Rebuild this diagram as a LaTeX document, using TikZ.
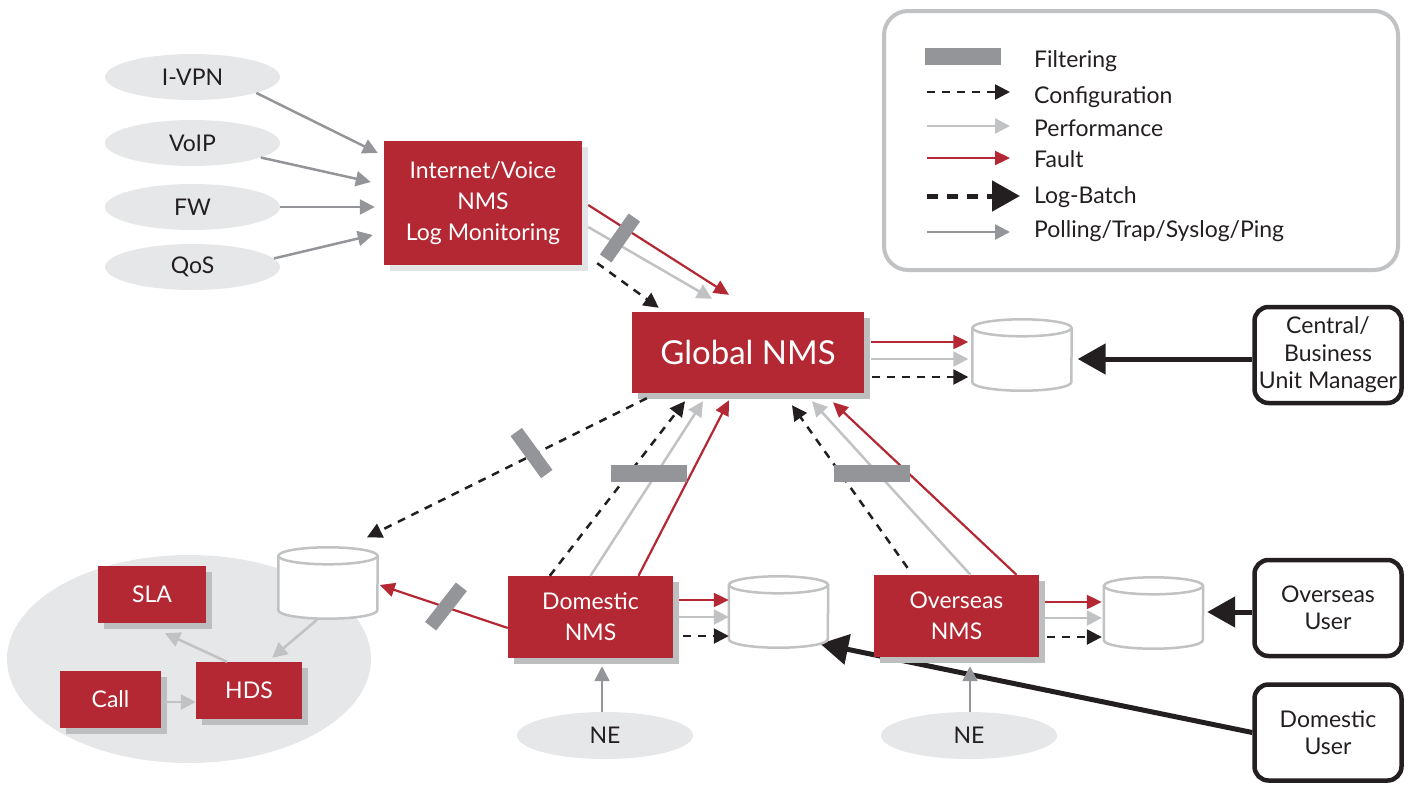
\documentclass[tikz,border=0pt]{standalone}
\usepackage{fontspec}
\setmainfont{Lato}
\usetikzlibrary{arrows.meta,calc,shapes.geometric,backgrounds}
\definecolor{nmsRed}{RGB}{179,40,50}
\definecolor{shade}{RGB}{188,190,192}
\definecolor{paleShade}{RGB}{226,227,229}
\definecolor{cloud}{RGB}{230,231,232}
\definecolor{perfGray}{RGB}{192,194,196}
\definecolor{pollGray}{RGB}{147,149,152}
\definecolor{inkBlack}{RGB}{35,31,32}
\newcommand{\labelfont}{\fontsize{23}{31}\selectfont}
\newcommand{\userfont}{\fontsize{23}{27.5}\selectfont}
\newcommand{\bigfont}{\fontsize{33}{40}\selectfont}
\tikzset{
  nms/.style={rectangle, fill=nmsRed, text=white, align=center, inner sep=0pt,
              font=\labelfont,
              preaction={fill=#1, transform canvas={xshift=6pt,yshift=-6pt}}},
  nms/.default=shade,
  elem/.style={ellipse, fill=cloud, inner sep=0pt, minimum width=175pt,
               minimum height=46pt, font=\labelfont, text=inkBlack},
  user/.style={rectangle, rounded corners=14pt, draw=inkBlack, line width=4.5pt,
               fill=white, align=center, minimum width=147pt, minimum height=96pt,
               font=\userfont, text=inkBlack, inner sep=0pt},
  store/.style={rectangle, inner sep=0pt, minimum width=99pt, minimum height=71pt},
  filt/.style={rectangle, fill=pollGray, inner sep=0pt, minimum width=50pt,
               minimum height=14pt},
  cfg/.style={draw=inkBlack, line width=2.5pt, dash pattern=on 8pt off 7pt,
              -{Triangle[length=15pt,width=15pt]}},
  perf/.style={draw=perfGray, line width=2.5pt, -{Triangle[length=15pt,width=15pt]}},
  fault/.style={draw=nmsRed, line width=2.2pt, -{Triangle[length=15pt,width=14pt]}},
  poll/.style={draw=pollGray, line width=2.5pt, -{Triangle[length=15pt,width=15pt]}},
  batch/.style={draw=inkBlack, line width=5pt, dash pattern=on 11pt off 9pt,
                -{Triangle[length=28pt,width=30pt]}},
  feed/.style={draw=inkBlack, line width=5pt, -{Triangle[length=28pt,width=30pt]}},
  canline/.style={draw=perfGray, line width=2.5pt, fill=white},
  keytext/.style={anchor=base west, inner sep=0pt, font=\labelfont, text=inkBlack},
}
% database drum drawn over a store node
\newcommand{\drum}[1]{%
  \draw[canline] ($(#1.north west)+(0,8.5)$) -- ($(#1.south west)+(0,-8.5)$)
    arc[start angle=180, end angle=360, x radius=49.5pt, y radius=8.5pt]
    -- ($(#1.north east)+(0,8.5)$);
  \draw[canline] ($(#1.north)+(0,8.5)$) ellipse[x radius=49.5pt, y radius=8.5pt];}

\begin{document}
\begin{tikzpicture}[x=1pt, y=-1pt]
  \useasboundingbox (0,0) rectangle (1415,785);

  % --- legend ---
  \node[rectangle, rounded corners=24pt, draw=perfGray, line width=4pt,
        minimum width=514pt, minimum height=259pt] (legend) at (1141,140.5) {};
  \node[filt, minimum width=76pt, minimum height=17pt] (keyFilt) at (963,56.5) {};
  \node[keytext] (keyFiltTxt) at (1034,67) {Filtering};
  \coordinate (cfgA) at (927,92);   \coordinate (cfgB) at (1010,92);
  \coordinate (perfA) at (927,126); \coordinate (perfB) at (1010,126);
  \coordinate (faultA) at (927,158); \coordinate (faultB) at (1010,158);
  \coordinate (batchA) at (927,196); \coordinate (batchB) at (1020,196);
  \coordinate (pollA) at (927,232); \coordinate (pollB) at (1010,232);
  \draw[cfg]   (cfgA) -- (cfgB);
  \draw[perf]  (perfA) -- (perfB);
  \draw[fault] (faultA) -- (faultB);
  \draw[batch] (batchA) -- (batchB);
  \draw[poll]  (pollA) -- (pollB);
  \node[keytext] (keyCfg)   at (1034,103) {Configuration};
  \node[keytext] (keyPerf)  at (1034,136) {Performance};
  \node[keytext] (keyFault) at (1034,167) {Fault};
  \node[keytext] (keyBatch) at (1034,203) {Log-Batch};
  \node[keytext] (keyPoll)  at (1034,237) {Polling/Trap/Syslog/Ping};

  % --- HDS domain ---
  \node[ellipse, fill=cloud, minimum width=364pt, minimum height=208pt] (hdsZone) at (189,659) {};

  % --- network elements ---
  \node[elem] (ivpn)  at (192.5,77)  {I-VPN};
  \node[elem] (voip)  at (192.5,143) {VoIP};
  \node[elem] (fw)    at (192.5,207) {FW};
  \node[elem] (qos)   at (192.5,267) {QoS};
  \node[elem, minimum width=176pt, minimum height=47pt] (nedom) at (605,735.5) {NE};
  \node[elem, minimum width=176pt, minimum height=47pt] (neovs) at (969,735.5) {NE};

  % --- management systems ---
  \node[nms=paleShade, minimum width=198pt, minimum height=124pt] (inet) at (483,203)
    {Internet/Voice\\NMS\\Log Monitoring};
  \node[nms, font=\bigfont, minimum width=232pt, minimum height=81pt] (gnms) at (748,352.5) {Global NMS};
  \node[nms, minimum width=165pt, minimum height=82pt] (dnms) at (590.5,617) {Domestic\\NMS};
  \node[nms, minimum width=165pt, minimum height=82pt] (onms) at (956.5,616) {Overseas\\NMS};
  \node[nms, minimum width=108pt, minimum height=57pt] (sla)  at (152,594.5) {SLA};
  \node[nms, minimum width=101pt, minimum height=57pt] (call) at (110.5,699.5) {Call};
  \node[nms, minimum width=106pt, minimum height=57pt] (hds)  at (249,690.5) {HDS};

  % --- log stores ---
  \node[store] (gcan) at (1022,355) {};
  \node[store] (lcan) at (328,583) {};
  \node[store] (dcan) at (778.5,612) {};
  \node[store] (ocan) at (1153.5,613) {};
  \drum{gcan} \drum{lcan} \drum{dcan} \drum{ocan}

  % --- users ---
  \node[user] (cbum)  at (1328,355)   {Central/\\Business\\Unit Manager};
  \node[user] (ouser) at (1328,608)   {Overseas\\User};
  \node[user] (duser) at (1328,732.5) {Domestic\\User};

  % --- collection into the Internet/Voice NMS ---
  \draw[poll] (ivpn.-14) -- ($(inet.west)+(-6,-50)$);
  \draw[poll] (voip.-12) -- ($(inet.west)+(-13,-21)$);
  \draw[poll] (fw.east)  -- ($(inet.west)+(-9,4)$);
  \draw[poll] (qos.6)    -- ($(inet.west)+(-11,32)$);

  % --- Internet/Voice NMS -> Global NMS ---
  \draw[fault] ($(inet.east)+(6,2)$)  -- ($(gnms.north)+(-19,-17)$);
  \draw[perf]  ($(inet.east)+(6,24)$) -- ($(gnms.north)+(-36,-13)$);
  \draw[cfg]   ($(inet.south east)+(15,-2)$) -- ($(gnms.north west)+(27,-4)$);

  % --- Global NMS -> its store ---
  \draw[fault] ($(gnms.east)+(7,-10.5)$) -- ($(gcan.west)+(-4,-13)$);
  \draw[perf]  ($(gnms.east)+(7,6.5)$)   -- ($(gcan.west)+(-4,4)$);
  \draw[cfg]   ($(gnms.east)+(8,24.5)$)  -- ($(gcan.west)+(-4,22)$);

  % --- Domestic NMS <-> Global NMS ---
  \draw[cfg]   ($(dnms.north west)+(42,0)$) -- ($(gnms.south)+(-63,8)$);
  \draw[perf]  (dnms.north)                 -- ($(gnms.south)+(-45,8)$);
  \draw[fault] ($(dnms.north)+(48,0)$)      -- ($(gnms.south)+(-19,7)$);

  % --- Overseas NMS <-> Global NMS ---
  \draw[cfg]   ($(onms.north)+(-49,-7)$) -- ($(gnms.south)+(44,12)$);
  \draw[perf]  ($(onms.north)+(14,0)$)   -- ($(gnms.south)+(64,8)$);
  \draw[fault] ($(onms.north)+(60,0)$)   -- ($(gnms.south)+(85,9)$);

  % --- regional NMS -> stores ---
  \draw[fault] ($(dnms.east)+(6,-17)$) -- ($(dcan.west)+(0,-12)$);
  \draw[perf]  ($(dnms.east)+(6,0)$)   -- ($(dcan.west)+(0,5)$);
  \draw[cfg]   ($(dnms.east)+(10,19)$) -- ($(dcan.west)+(0,24)$);
  \draw[fault] ($(onms.east)+(6,-14)$) -- ($(ocan.west)+(-2,-11)$);
  \draw[perf]  ($(onms.east)+(6,2)$)   -- ($(ocan.west)+(-2,5)$);
  \draw[cfg]   ($(onms.east)+(8,21)$)  -- ($(ocan.west)+(-2,24)$);

  % --- feeds into the HDS store ---
  \draw[cfg]   ($(gnms.south west)+(15,5)$) -- ($(lcan.north)+(39,-10)$);
  \draw[fault] ($(dnms.west)+(0,11)$)       -- ($(lcan.east)+(2,2)$);
  \draw[perf]  ($(lcan.south)+(-11,1)$)     -- ($(hds.north east)+(-30,-4)$);
  \draw[perf]  ($(hds.north)+(-22,0)$)      -- ($(sla.south)+(13,10)$);
  \draw[perf]  ($(call.east)+(3,2.5)$)      -- ($(hds.west)+(0,11.5)$);

  % --- users reading the stores ---
  \draw[feed] ($(cbum.west)+(0,4)$)  -- ($(gcan.east)+(6,4)$);
  \draw[feed] ($(ouser.west)+(0,4)$) -- ($(ocan.east)+(4,-1)$);
  \begin{scope}[on background layer]
    \draw[feed] (duser.west) -- ($(dcan.south east)+(-8,-4)$);
  \end{scope}

  % --- polling from network elements ---
  \draw[poll] ($(nedom.north)+(-3,0)$) -- ($(dnms.south)+(11.5,8)$);
  \draw[poll] ($(neovs.north)+(1,0)$)  -- ($(onms.south)+(13.5,9)$);

  % --- filters ---
  \node[filt, rotate=55]  (fInet) at (620,238) {};
  \node[filt, rotate=-54, minimum width=52pt] (fLeft) at (531.5,453) {};
  \node[filt, rotate=52]  (fDom)  at (446,606.5) {};
  \node[filt, minimum width=76pt, minimum height=17pt] (fDG) at (649,473.5) {};
  \node[filt, minimum width=76pt, minimum height=17pt] (fOG) at (871.5,473.5) {};
\end{tikzpicture}
\end{document}
